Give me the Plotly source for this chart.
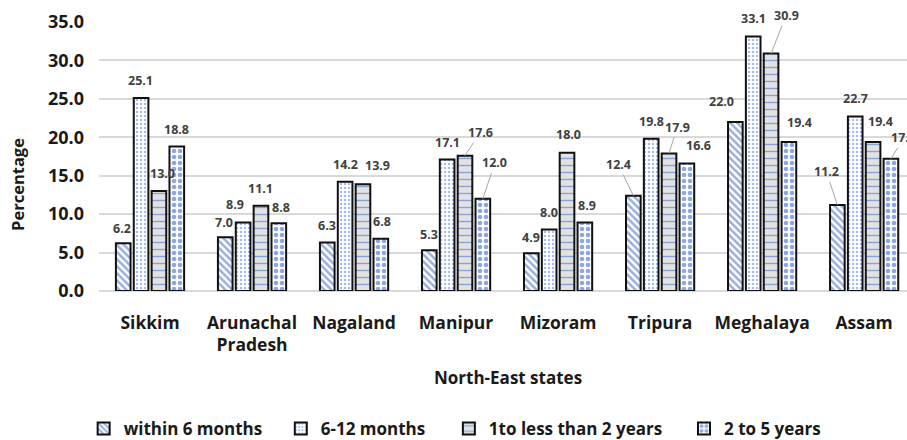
import plotly.graph_objects as go

# ---- data -------------------------------------------------------------
states = ["Sikkim", "Arunachal<br>Pradesh", "Nagaland", "Manipur",
          "Mizoram", "Tripura", "Meghalaya", "Assam"]
series_names = ["within 6 months", "6-12 months",
                "1to less than 2 years", "2 to 5 years"]
within_6_months = [6.2, 7.0, 6.3, 5.3, 4.9, 12.4, 22.0, 11.2]
months_6_to_12 = [25.1, 8.9, 14.2, 17.1, 8.0, 19.8, 33.1, 22.7]
years_1_to_2 = [13.0, 11.1, 13.9, 17.6, 18.0, 17.9, 30.9, 19.4]
years_2_to_5 = [18.8, 8.8, 6.8, 12.0, 8.9, 16.6, 19.4, 17.2]
y_ticks = [0, 5, 10, 15, 20, 25, 30, 35]

series_values = [within_6_months, months_6_to_12, years_1_to_2, years_2_to_5]

# ---- styling ----------------------------------------------------------
FONT = "Open Sans"
patterns = [
    dict(shape="\\", fgcolor="#2f5fc0", bgcolor="#ffffff", size=5, solidity=0.5),
    dict(shape=".", fgcolor="#4a7ad4", bgcolor="#ffffff", size=4, solidity=0.3),
    dict(shape="-", fgcolor="#2f64cc", bgcolor="#e2e2e2", size=7, solidity=0.2),
    dict(shape=".", fgcolor="#1a52c8", bgcolor="#ffffff", size=6, solidity=0.48),
]
# left edge of each legend entry, in paper units
legend_x = [-0.019, 0.225, 0.433, 0.724]

# label placement per bar: (dx px, dy px above bar top, leader line)
label_offsets = [
    [(-1, 15, 0), (-1, 15, 0), (0, 17, 0), (0, 16, 0), (0, 16, 0), (-15, 31, 1), (-14, 20, 0), (-11, 33, 1)],
    [(-1, 18, 0), (-8, 18, 0), (0, 17, 0), (0, 17, 0), (0, 17, 0), (0, 17, 0), (0, 18, 0), (0, 18, 0)],
    [(4, 18, 0), (0, 17, 0), (15, 19, 0), (15, 23, 1), (1, 18, 0), (8, 26, 1), (15, 38, 1), (7, 20, 0)],
    [(0, 17, 0), (2, 16, 0), (1, 17, 0), (12, 36, 1), (2, 17, 0), (12, 18, 0), (11, 19, 0), (13, 21, 1)],
]

BARGAP = 0.3
BARGROUPGAP = 0.18

fig = go.Figure()
legend_ids = ["legend", "legend2", "legend3", "legend4"]
for name, vals, pat, lid in zip(series_names, series_values, patterns, legend_ids):
    fig.add_trace(go.Bar(
        x=states, y=vals, name=name, legend=lid,
        marker=dict(color=pat["bgcolor"], pattern=pat,
                    line=dict(color="#111111", width=2)),
        hoverinfo="skip",
    ))

# value labels
n_series = len(series_values)
slot = (1 - BARGAP) / n_series
annotations = []
for k, vals in enumerate(series_values):
    offset = -(1 - BARGAP) / 2 + slot * (k + 0.5)
    for i, v in enumerate(vals):
        dx, dy, leader = label_offsets[k][i]
        common = dict(x=i + offset, y=v, xref="x", yref="y",
                      text=f"{v:.1f}",
                      font=dict(family=FONT, size=12.5, color="#404040", weight="bold"))
        if leader:
            annotations.append(dict(**common, showarrow=True, arrowhead=0,
                                    arrowwidth=1, arrowcolor="#a6a6a6",
                                    standoff=0, ax=dx, ay=-dy))
        else:
            annotations.append(dict(**common, showarrow=False,
                                    xanchor="center", yanchor="middle",
                                    xshift=dx, yshift=dy))

# axis titles
annotations.append(dict(text="Percentage", x=-0.100, y=0.395, xref="paper", yref="paper",
                        textangle=-90, showarrow=False, xanchor="center", yanchor="middle",
                        font=dict(family=FONT, size=16.5, color="#1a1a1a", weight="bold")))
annotations.append(dict(text="North-East states", x=0.506, y=-0.32, xref="paper", yref="paper",
                        showarrow=False, xanchor="center", yanchor="middle",
                        font=dict(family=FONT, size=17, color="#1a1a1a", weight="bold")))

legend_style = dict(orientation="h", xanchor="left", y=-0.513, yanchor="middle",
                    font=dict(family=FONT, size=17, color="#1a1a1a", weight="bold"),
                    bgcolor="rgba(0,0,0,0)")

fig.update_layout(
    width=907, height=440,
    margin=dict(l=99, r=0, t=22, b=149, autoexpand=False),
    paper_bgcolor="white", plot_bgcolor="white",
    barmode="group", bargap=BARGAP, bargroupgap=BARGROUPGAP,
    font=dict(family=FONT, color="#1a1a1a"),
    showlegend=True,
    legend=dict(x=legend_x[0], **legend_style),
    legend2=dict(x=legend_x[1], **legend_style),
    legend3=dict(x=legend_x[2], **legend_style),
    legend4=dict(x=legend_x[3], **legend_style),
    annotations=annotations,
)
fig.update_xaxes(
    type="category", range=[-0.5, 7.42],
    showgrid=False, zeroline=False, showline=False, ticks="",
    tickfont=dict(family=FONT, size=17.5, color="#1a1a1a", weight="bold"),
    ticklabelstandoff=19,
)
fig.update_yaxes(
    range=[0, 35], tickvals=y_ticks, tickformat=".1f",
    showgrid=True, gridcolor="#d9d9d9", gridwidth=1.5,
    zeroline=True, zerolinecolor="#d9d9d9", zerolinewidth=1.5,
    showline=False, ticks="",
    tickfont=dict(family=FONT, size=18, color="#1a1a1a", weight="bold"),
    ticklabelstandoff=14,
)

fig.write_html("out.html")
